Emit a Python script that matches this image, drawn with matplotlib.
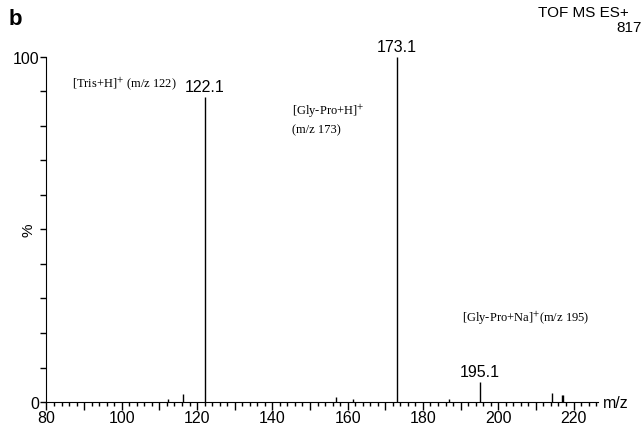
import matplotlib
matplotlib.use('Agg')
import matplotlib.pyplot as plt
from matplotlib.ticker import MultipleLocator

plt.rcParams['font.family'] = ['Liberation Sans', 'DejaVu Sans']
plt.rcParams['mathtext.fontset'] = 'stix'

# peaks (m/z, relative intensity %)
mz = [112.3, 116.3, 122.1, 156.9, 161.3, 173.1, 186.9, 195.1, 214.2, 216.9, 217.2]
intensity = [0.8, 2.3, 88.5, 1.5, 0.8, 100.0, 0.8, 5.8, 2.5, 2.0, 2.0]

labelled_mz = [122.1, 173.1, 195.1]
labelled_int = [88.5, 100.0, 5.8]

fig = plt.figure(figsize=(6.43, 4.27), dpi=100)
ax = fig.add_axes([0.0723, 0.0562, 0.8577, 0.8080])

ax.vlines(mz, 0, intensity, color='black', linewidth=1.0)
for m, h in zip(labelled_mz, labelled_int):
    ax.annotate('{:.1f}'.format(m), (m, h), xytext=(0, 2), textcoords='offset points',
                ha='center', va='bottom', fontsize=11.5)

ax.set_xlim(80, 226.5)
ax.set_ylim(0, 100)
for s in ['top', 'right']:
    ax.spines[s].set_visible(False)

ax.xaxis.set_major_locator(MultipleLocator(10))
ax.xaxis.set_minor_locator(MultipleLocator(2))
ax.set_xticks([80, 90, 100, 110, 120, 130, 140, 150, 160, 170, 180, 190, 200, 210, 220])
ax.set_xticklabels(['80', '', '100', '', '120', '', '140', '', '160', '', '180', '', '200', '', '220'])
ax.tick_params(axis='x', which='major', length=6, width=1, labelsize=11.5, pad=0)
ax.tick_params(axis='x', which='minor', length=3, width=1)

ax.set_yticks(range(0, 101, 10))
ax.set_yticklabels(['0'] + [''] * 9 + ['100'])
ax.tick_params(axis='y', length=4, width=1, labelsize=11.5, pad=1)

fig.text(0.044, 0.46, '%', rotation=90, ha='center', va='center', fontsize=11)
fig.text(0.938, 0.056, 'm/z', ha='left', va='center', fontsize=11.5)
fig.text(0.014, 0.955, 'b', fontsize=16, fontweight='bold', ha='left', va='center')
fig.text(0.978, 0.97, 'TOF MS ES+', ha='right', va='center', fontsize=11)
fig.text(0.998, 0.935, '817', ha='right', va='center', fontsize=11)

serif = ['Liberation Serif', 'DejaVu Serif']
ax.text(86.8, 92.5, '[Tris+H]$^{+}$ (m/z 122)', family=serif, fontsize=9, ha='left', va='center')
ax.text(145.3, 84.5, '[Gly-Pro+H]$^{+}$', family=serif, fontsize=9, ha='left', va='center')
ax.text(145.3, 79.0, '(m/z 173)', family=serif, fontsize=9, ha='left', va='center')
ax.text(190.4, 24.5, '[Gly-Pro+Na]$^{+}$(m/z 195)', family=serif, fontsize=9, ha='left', va='center')

fig.savefig('out.png', dpi=100)
